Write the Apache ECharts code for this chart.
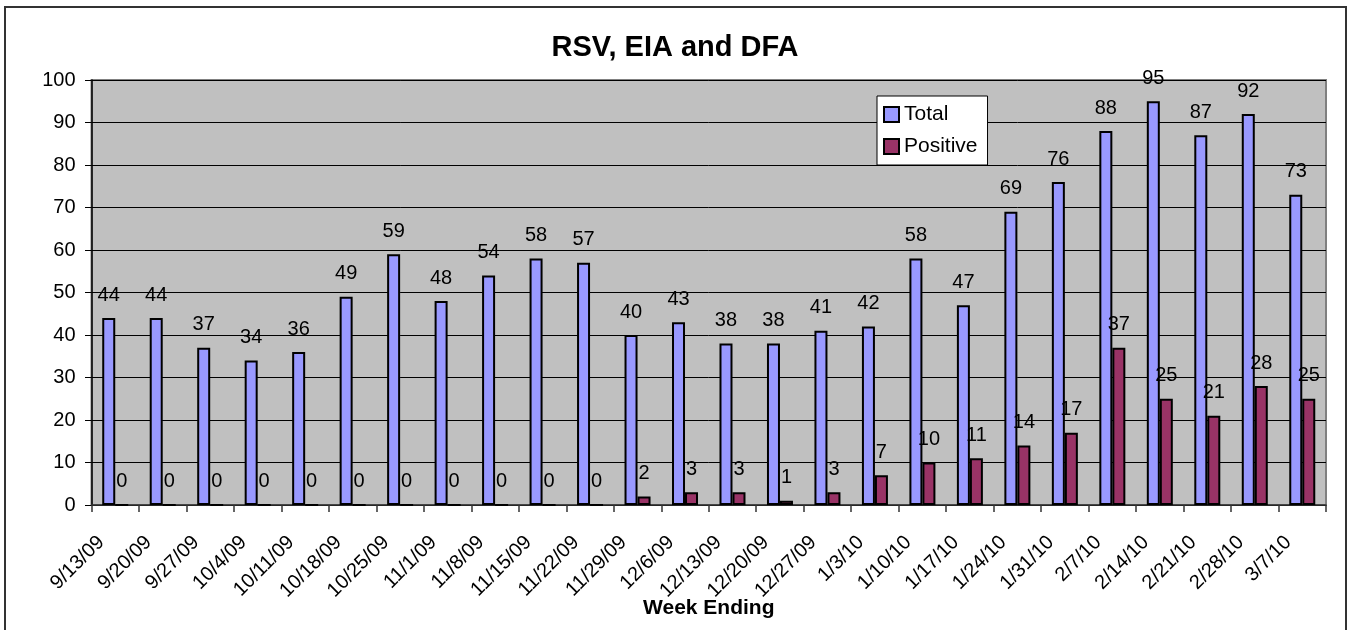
<!DOCTYPE html>
<html>
<head>
<meta charset="utf-8">
<script src="https://cdn.jsdelivr.net/npm/echarts@6/dist/echarts.min.js"></script>
<style>html,body{margin:0;padding:0;background:#fff;}#c{width:1350px;height:630px;}</style>
</head>
<body>
<div id="c"></div>
<script>
var categories = ['9/13/09','9/20/09','9/27/09','10/4/09','10/11/09','10/18/09','10/25/09','11/1/09','11/8/09','11/15/09','11/22/09','11/29/09','12/6/09','12/13/09','12/20/09','12/27/09','1/3/10','1/10/10','1/17/10','1/24/10','1/31/10','2/7/10','2/14/10','2/21/10','2/28/10','3/7/10'];
var totalValues = [44,44,37,34,36,49,59,48,54,58,57,40,43,38,38,41,42,58,47,69,76,88,95,87,92,73];
var positiveValues = [0,0,0,0,0,0,0,0,0,0,0,2,3,3,1,3,7,10,11,14,17,37,25,21,28,25];
var yTicks = [0,10,20,30,40,50,60,70,80,90,100];

var FONT = "'Liberation Sans', Arial, sans-serif";
var chart = echarts.init(document.getElementById('c'), null, {renderer: 'canvas'});
var labelCfg = {show: true, position: 'top', distance: 13, color: '#000', fontSize: 20, fontFamily: FONT};
chart.setOption({
  animation: false,
  backgroundColor: '#fff',
  title: {
    text: 'RSV, EIA and DFA',
    left: 'center',
    top: 28,
    textStyle: {fontSize: 29, fontWeight: 'bold', color: '#000', fontFamily: FONT}
  },
  legend: {
    orient: 'vertical',
    left: 877,
    top: 96,
    backgroundColor: '#fff',
    borderColor: '#000',
    borderWidth: 1,
    padding: [8, 10, 8, 6],
    itemWidth: 15,
    itemHeight: 15,
    itemGap: 11,
    itemTextGap: 4,
    icon: 'rect',
    textStyle: {fontSize: 21, color: '#000', fontFamily: FONT},
    data: ['Total', 'Positive']
  },
  grid: {
    left: 91.5, right: 24, top: 80, bottom: 125,
    containLabel: false,
    outerBoundsMode: 'none',
    show: true,
    backgroundColor: '#C0C0C0',
    borderColor: '#808080',
    borderWidth: 2
  },
  xAxis: {
    type: 'category',
    data: categories,
    name: 'Week Ending',
    nameLocation: 'middle',
    nameGap: 93,
    nameMoveOverlap: false,
    nameTextStyle: {fontSize: 21, fontWeight: 'bold', color: '#000', fontFamily: FONT},
    axisLine: {show: true, lineStyle: {color: '#333', width: 1.5}},
    axisTick: {show: true, length: 7, lineStyle: {color: '#333', width: 1.5}},
    axisLabel: {
      interval: 0, rotate: 45, margin: 20, color: '#000',
      fontSize: 20, fontFamily: FONT,
      padding: [0, 20, 0, 0]
    },
    splitLine: {show: false}
  },
  yAxis: {
    type: 'value',
    min: yTicks[0],
    max: yTicks[yTicks.length - 1],
    interval: yTicks[1] - yTicks[0],
    axisLine: {show: true, lineStyle: {color: '#000', width: 1.5}},
    axisTick: {show: true, length: 6.5, lineStyle: {color: '#000', width: 1}},
    axisLabel: {margin: 16, color: '#000', fontSize: 20, fontFamily: FONT},
    splitLine: {show: true, lineStyle: {color: '#000', width: 1}}
  },
  series: [
    {
      name: 'Total', type: 'bar', data: totalValues,
      barWidth: 13, barGap: '0%',
      itemStyle: {color: '#9999FF', borderColor: '#000', borderWidth: 2},
      label: labelCfg
    },
    {
      name: 'Positive', type: 'bar', data: positiveValues,
      barWidth: 13, barGap: '0%',
      itemStyle: {color: '#993366', borderColor: '#000', borderWidth: 2},
      label: labelCfg
    }
  ],
  graphic: [{
    type: 'rect', silent: true, z: 100,
    shape: {x: 5, y: 7, width: 1341, height: 650},
    style: {fill: 'none', stroke: '#333', lineWidth: 2}
  }]
});
</script>
</body>
</html>
